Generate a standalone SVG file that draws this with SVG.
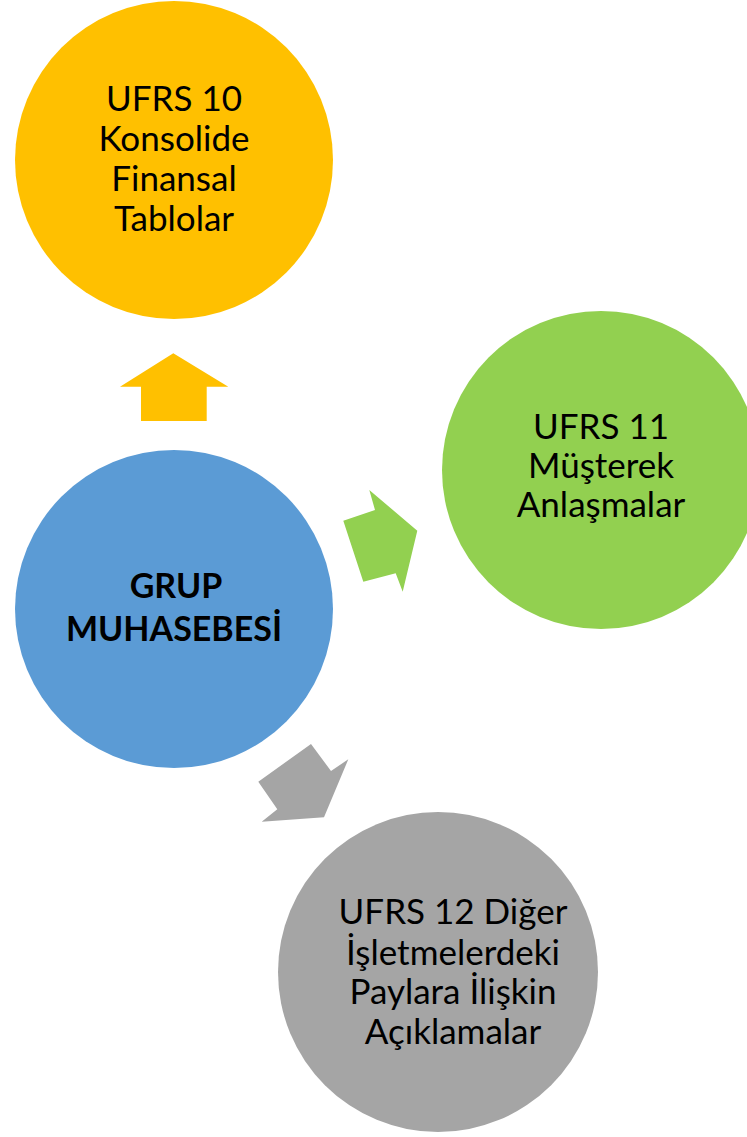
<svg xmlns="http://www.w3.org/2000/svg" width="747" height="1137" viewBox="0 0 747 1137">
<style>
.t{font-family:Lato,"Open Sans","Liberation Sans",sans-serif;font-size:35px;fill:#000;text-anchor:middle}
.b{font-weight:bold;font-size:34px}
</style>
<rect width="747" height="1137" fill="#fff"/>
<g id="connectors">
<polygon fill="#FFC000" points="173.3,353.3 228.3,386.7 206.7,386.7 206.7,421 141,421 141,386.7 120,386.7"/>
<polygon fill="#92D050" points="369.3,490 417.3,530.7 402.7,591.7 395.7,573.3 363.3,581.7 343.3,520.7 375,510"/>
<polygon fill="#A5A5A5" points="311,744 331,771 348.3,759.3 324,817.3 261.7,821.7 277.3,809.3 258.3,781.7"/>
</g>
<g id="n1">
<circle cx="174" cy="160" r="159" fill="#FFC000"/>
<text class="t" x="174" y="111">UFRS 10</text>
<text class="t" x="174" y="151">Konsolide</text>
<text class="t" x="174" y="191">Finansal</text>
<text class="t" x="174" y="231">Tablolar</text>
</g>
<g id="n2">
<circle cx="601" cy="470" r="159" fill="#92D050"/>
<text class="t" x="601" y="439">UFRS 11</text>
<text class="t" x="601" y="478">Müşterek</text>
<text class="t" x="601" y="517">Anlaşmalar</text>
</g>
<g id="n0">
<circle cx="174" cy="609" r="159" fill="#5B9BD5"/>
<text class="t b" x="176" y="598">GRUP</text>
<text class="t b" x="174" y="641">MUHASEBESİ</text>
</g>
<g id="n3">
<circle cx="438" cy="972" r="160" fill="#A5A5A5"/>
<text class="t" x="453" y="924">UFRS 12 Diğer</text>
<text class="t" x="453" y="965">İşletmelerdeki</text>
<text class="t" x="453" y="1004">Paylara İlişkin</text>
<text class="t" x="453" y="1044">Açıklamalar</text>
</g>
</svg>
